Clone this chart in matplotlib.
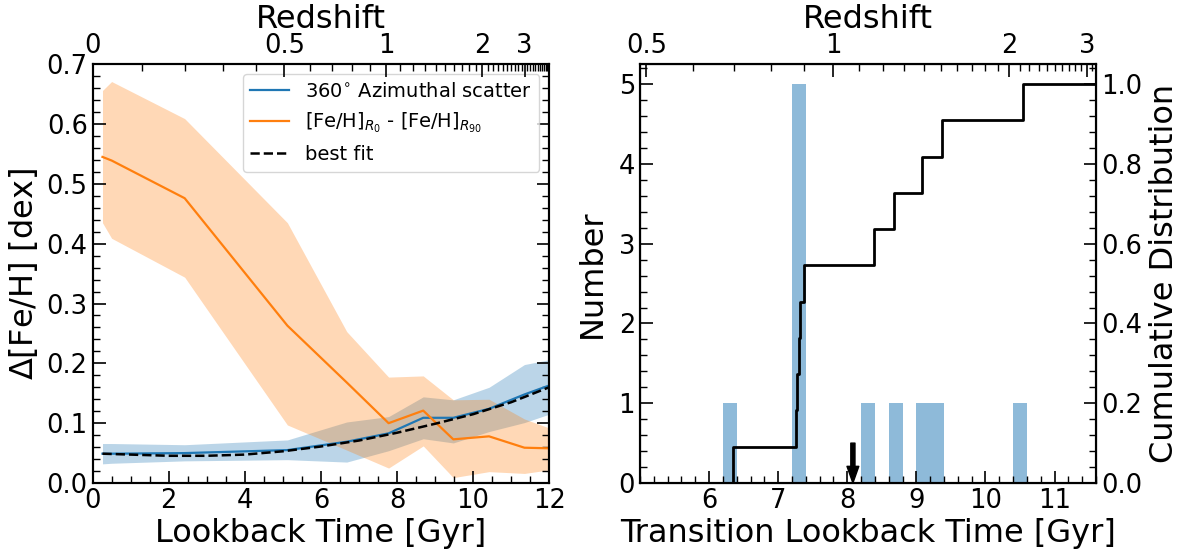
import numpy as np
import matplotlib
matplotlib.use("Agg")
import matplotlib.pyplot as plt
from matplotlib.ticker import MultipleLocator, FixedLocator, FixedFormatter

plt.rcParams['font.family'] = ['DejaVu Sans']
plt.rcParams['mathtext.fontset'] = 'dejavusans'

# ---------------- data (left panel) ----------------
t_snap = [0.26, 0.50, 2.42, 5.12, 6.68, 7.78, 8.69, 9.48, 10.42, 11.35, 12.0]
azi_scatter = [0.049, 0.049, 0.050, 0.055, 0.069, 0.083, 0.109, 0.109, 0.124, 0.148, 0.163]
azi_hi = [0.066, 0.066, 0.064, 0.072, 0.102, 0.111, 0.144, 0.139, 0.160, 0.198, 0.206]
azi_lo = [0.032, 0.033, 0.037, 0.039, 0.035, 0.054, 0.074, 0.067, 0.086, 0.101, 0.115]
grad = [0.545, 0.539, 0.476, 0.263, 0.168, 0.100, 0.121, 0.073, 0.078, 0.059, 0.058]
grad_hi = [0.656, 0.671, 0.609, 0.435, 0.253, 0.177, 0.179, 0.139, 0.140, 0.107, 0.092]
grad_lo = [0.435, 0.409, 0.344, 0.097, 0.055, 0.025, 0.062, 0.009, 0.019, 0.016, 0.022]

t_fit = [0.26, 1, 2, 3, 4, 5, 6, 7, 8, 9, 10, 11, 12]
best_fit = [0.049, 0.0475, 0.0455, 0.0455, 0.0475, 0.053, 0.061, 0.071, 0.084, 0.099, 0.115, 0.135, 0.160]

# ---------------- data (right panel) ----------------
transition_times = [6.35, 7.253, 7.267, 7.30, 7.31, 7.375, 8.384, 8.67, 9.08, 9.37, 10.54]
time_ticks_right = [6, 7, 8, 9, 10, 11]

redshift_major = [0, 0.5, 1, 2, 3]
redshift_labels = ['0', '0.5', '1', '2', '3']


def lookback_time(z, H0=70.0, Om=0.3):
    z = np.atleast_1d(np.asarray(z, float))
    out = []
    for zz in z:
        zg = np.linspace(0.0, zz, 4001)
        f = 1.0 / ((1 + zg) * np.sqrt(Om * (1 + zg) ** 3 + 1 - Om))
        out.append(np.trapezoid(f, zg))
    return 977.792 / H0 * np.array(out)


FS_TICK = 18.5
FS_LAB = 23
C_BLUE = '#1f77b4'
C_ORANGE = '#ff7f0e'


def style_ticks(ax, axis='both'):
    ax.tick_params(axis=axis, which='major', direction='in', length=9, width=1.2,
                   labelsize=FS_TICK)
    ax.tick_params(axis=axis, which='minor', direction='in', length=5, width=1.0)


def add_redshift_axis(ax, xlim, H0, Om):
    axt = ax.twiny()
    axt.set_xlim(xlim)
    maj = lookback_time(redshift_major, H0, Om)
    keep = [i for i, v in enumerate(maj) if xlim[0] - 1e-6 <= v <= xlim[1] + 1e-3]
    axt.xaxis.set_major_locator(FixedLocator([min(maj[i], xlim[1]) for i in keep]))
    axt.xaxis.set_major_formatter(FixedFormatter([redshift_labels[i] for i in keep]))
    zmin = np.round(np.arange(0.1, 4.01, 0.1), 2)
    zmin = [z for z in zmin if z not in redshift_major]
    mn = lookback_time(zmin, H0, Om)
    axt.xaxis.set_minor_locator(FixedLocator([v for v in mn if xlim[0] <= v <= xlim[1]]))
    axt.tick_params(axis='x', which='both', top=True, bottom=False, labeltop=True,
                    labelbottom=False)
    style_ticks(axt, 'x')
    axt.set_xlabel('Redshift', fontsize=FS_LAB, labelpad=4)
    for s in axt.spines.values():
        s.set_linewidth(1.5)
    return axt


fig = plt.figure(figsize=(11.81, 5.5), dpi=100)

# ---------------- left panel ----------------
ax1 = fig.add_axes([0.0784, 0.1218, 0.3866, 0.7615])
ax1.fill_between(t_snap, azi_lo, azi_hi, color=C_BLUE, alpha=0.3, lw=0)
ax1.fill_between(t_snap, grad_lo, grad_hi, color=C_ORANGE, alpha=0.3, lw=0)
ax1.plot(t_snap, azi_scatter, color=C_BLUE, lw=1.6, label=r'360$^{\circ}$ Azimuthal scatter')
ax1.plot(t_snap, grad, color=C_ORANGE, lw=1.6,
         label=r'[Fe/H]$_{R_0}$ - [Fe/H]$_{R_{90}}$')
ax1.plot(t_fit, best_fit, color='black', ls='--', lw=1.8, label='best fit')
ax1.set_xlim(0, 12)
ax1.set_ylim(0, 0.7)
ax1.xaxis.set_major_locator(MultipleLocator(2))
ax1.xaxis.set_minor_locator(MultipleLocator(0.5))
ax1.yaxis.set_major_locator(MultipleLocator(0.1))
ax1.yaxis.set_minor_locator(MultipleLocator(0.02))
ax1.tick_params(axis='y', which='both', left=True, right=True)
ax1.tick_params(axis='x', which='both', top=False)
style_ticks(ax1)
ax1.set_xlabel('Lookback Time [Gyr]', fontsize=FS_LAB, labelpad=3)
ax1.set_ylabel(r'$\Delta$[Fe/H] [dex]', fontsize=FS_LAB, labelpad=5)
for s in ax1.spines.values():
    s.set_linewidth(1.5)
ax1.legend(loc='upper right', fontsize=14)
add_redshift_axis(ax1, (0, 12), 70.0, 0.3)

# ---------------- right panel ----------------
XLIM_R = (5.0, 11.6)
ax2 = fig.add_axes([0.5419, 0.1218, 0.3861, 0.7615])
bins = np.round(np.arange(5.0, 11.61, 0.2), 2)
ax2.hist(transition_times, bins=bins, color=C_BLUE, alpha=0.5)
ax2.set_xlim(XLIM_R)
ax2.set_ylim(0, 5.25)
ax2.xaxis.set_major_locator(FixedLocator(time_ticks_right))
ax2.xaxis.set_minor_locator(MultipleLocator(0.2))
ax2.yaxis.set_major_locator(MultipleLocator(1))
ax2.yaxis.set_minor_locator(MultipleLocator(0.2))
ax2.tick_params(axis='x', which='both', top=False)
ax2.tick_params(axis='y', which='both', right=False)
style_ticks(ax2)
ax2.set_xlabel('Transition Lookback Time [Gyr]', fontsize=FS_LAB, labelpad=3)
ax2.set_ylabel('Number', fontsize=FS_LAB, labelpad=8)
for s in ax2.spines.values():
    s.set_linewidth(1.5)

mean_t = float(np.mean(transition_times))
ax2.annotate('', xy=(mean_t, 0), xytext=(mean_t, 0.5),
             arrowprops=dict(facecolor='black', edgecolor='black', width=3.0,
                             headwidth=8.5, headlength=12, shrink=0.0))

ax3 = ax2.twinx()
ts = np.sort(transition_times)
n = len(ts)
xs = np.concatenate([[ts[0]], ts, [XLIM_R[1]]])
ys = np.concatenate([[0.0], np.arange(1, n + 1) / n, [1.0]])
ax3.step(xs, ys, where='post', color='black', lw=2.0)
ax3.set_ylim(0, 1.05)
ax3.yaxis.set_major_locator(MultipleLocator(0.2))
ax3.yaxis.set_minor_locator(MultipleLocator(0.04))
style_ticks(ax3, 'y')
ax3.set_ylabel('Cumulative Distribution', fontsize=FS_LAB, labelpad=5)

add_redshift_axis(ax2, XLIM_R, 69.3, 0.3)

fig.savefig('out.png', dpi=100)
